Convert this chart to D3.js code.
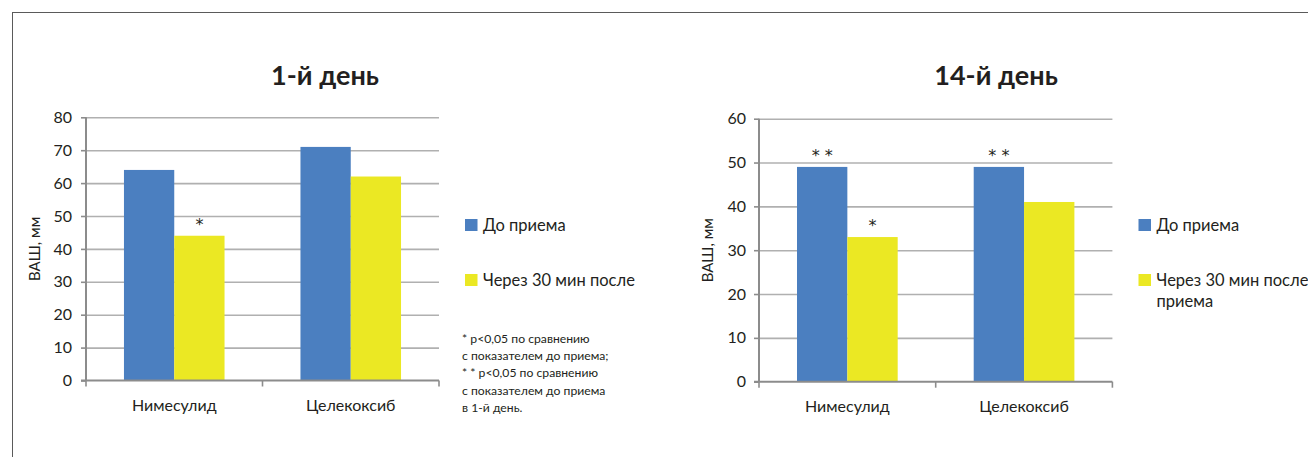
<!DOCTYPE html>
<html>
<head>
<meta charset="utf-8">
<script src="https://cdn.jsdelivr.net/npm/d3@7"></script>
<style>
  html, body { margin: 0; padding: 0; background: #fff; }
  svg { display: block; }
  text { font-family: "Lato", "Noto Sans", sans-serif; fill: #231f20; }
  text.mark { font-family: "DejaVu Sans", sans-serif; }
</style>
</head>
<body>
<svg id="chart" width="1308" height="457"></svg>
<script>
// Pain scores (VAS, mm) before and 30 min after the dose
const categories = ["Нимесулид", "Целекоксиб"];
const seriesNames = ["До приема", "Через 30 мин после"];
const seriesColors = ["#4b7fc0", "#ebe823"];

const day1Before = [64, 71];
const day1After = [44, 62];
const day1Ticks = [0, 10, 20, 30, 40, 50, 60, 70, 80];
const day1Marks = [["", "*"], ["", ""]];

const day14Before = [49, 49];
const day14After = [33, 41];
const day14Ticks = [0, 10, 20, 30, 40, 50, 60];
const day14Marks = [["* *", "*"], ["* *", ""]];

const yTitle = "ВАШ, мм";
const legendLeft = [["До приема"], ["Через 30 мин после"]];
const legendRight = [["До приема"], ["Через 30 мин после", "приема"]];
const footnotes = [
  "* p<0,05 по сравнению",
  "с показателем до приема;",
  "* * p<0,05 по сравнению",
  "с показателем до приема",
  "в 1-й день."
];

const svg = d3.select("#chart");

// frame
svg.append("line").attr("x1", 12).attr("x2", 1308).attr("y1", 12.5).attr("y2", 12.5)
  .attr("stroke", "#5a5a5a").attr("stroke-width", 1);
svg.append("line").attr("x1", 12.5).attr("x2", 12.5).attr("y1", 12).attr("y2", 457)
  .attr("stroke", "#5a5a5a").attr("stroke-width", 1);

function drawChart(cfg) {
  const g = svg.append("g");
  const x0 = d3.scaleBand().domain(categories).range([cfg.left, cfg.right]).padding(0);
  const x1 = d3.scaleBand().domain([0, 1]).range([0, x0.bandwidth()])
    .paddingInner(0).paddingOuter(0.755);
  const yMax = cfg.ticks[cfg.ticks.length - 1];
  const y = d3.scaleLinear().domain([0, yMax]).range([cfg.bottom, cfg.top]);

  // gridlines
  g.append("g")
    .attr("transform", `translate(${cfg.left},0)`)
    .call(d3.axisLeft(y).tickValues(cfg.ticks.filter(t => t > 0))
      .tickSize(-(cfg.right - cfg.left)).tickFormat(""))
    .call(s => s.select(".domain").remove())
    .call(s => s.selectAll("line").attr("stroke", "#b0b0b0").attr("stroke-width", 1.6));

  // bars
  const rows = categories.map((c, i) => ({ c, i, v: [cfg.before[i], cfg.after[i]] }));
  const grp = g.selectAll(".grp").data(rows).join("g")
    .attr("transform", d => `translate(${x0(d.c)},0)`);
  grp.selectAll("rect").data(d => d.v.map((v, k) => ({ v, k }))).join("rect")
    .attr("x", d => x1(d.k))
    .attr("width", x1.bandwidth())
    .attr("y", d => y(d.v))
    .attr("height", d => y(0) - y(d.v))
    .attr("fill", d => seriesColors[d.k]);

  // significance marks
  grp.selectAll(".mark").data(d => cfg.marks[d.i].map((m, k) => ({ m, k, v: d.v[k] })))
    .join("text")
    .attr("class", "mark")
    .attr("x", d => x1(d.k) + x1.bandwidth() / 2)
    .attr("y", d => y(d.v) - cfg.markGap)
    .attr("text-anchor", "middle")
    .attr("font-size", 16)
    .text(d => d.m);

  // y axis
  g.append("g")
    .attr("transform", `translate(${cfg.left},0)`)
    .call(d3.axisLeft(y).tickValues(cfg.ticks).tickSize(5).tickPadding(cfg.tickPad).tickFormat(d3.format("d")))
    .call(s => s.select(".domain").attr("stroke", "#8c8c8c").attr("stroke-width", 2)
      .attr("d", `M0,${cfg.top}V${cfg.bottom}`))
    .call(s => s.selectAll(".tick line").attr("stroke", "#8c8c8c").attr("stroke-width", 1.6))
    .call(s => s.selectAll(".tick text").attr("font-size", 16).attr("fill", "#231f20"));

  // x axis
  g.append("line").attr("x1", cfg.left - 5).attr("x2", cfg.right)
    .attr("y1", y(0)).attr("y2", y(0)).attr("stroke", "#8c8c8c").attr("stroke-width", 2);
  const edges = [x0(categories[0])].concat(categories.map(c => x0(c) + x0.bandwidth()));
  g.selectAll(".xt").data(edges).join("line")
    .attr("x1", d => d).attr("x2", d => d)
    .attr("y1", y(0)).attr("y2", y(0) + 6)
    .attr("stroke", "#8c8c8c").attr("stroke-width", 1.6);
  g.selectAll(".xl").data(categories).join("text")
    .attr("x", c => x0(c) + x0.bandwidth() / 2)
    .attr("y", cfg.bottom + 30)
    .attr("text-anchor", "middle")
    .attr("font-size", 16)
    .text(c => c);

  // y title
  g.append("text")
    .attr("transform", `translate(${cfg.yTitleX},${(cfg.top + cfg.bottom) / 2}) rotate(-90)`)
    .attr("text-anchor", "middle")
    .attr("dy", "0.35em")
    .attr("font-size", 15)
    .text(yTitle);

  // title
  g.append("text")
    .attr("x", cfg.titleX).attr("y", 84.5)
    .attr("text-anchor", "middle")
    .attr("font-size", 27)
    .attr("font-weight", 700)
    .text(cfg.title);

  // legend
  const lg = g.append("g").attr("transform", `translate(${cfg.legendX},0)`);
  cfg.legend.forEach((lines, k) => {
    const yy = cfg.legendY[k];
    lg.append("rect").attr("x", 0).attr("y", yy - 11.5).attr("width", 12.5).attr("height", 12)
      .attr("fill", seriesColors[k]);
    const t = lg.append("text").attr("x", 18).attr("y", yy).attr("font-size", 16.5);
    lines.forEach((ln, j) => t.append("tspan").attr("x", 18).attr("dy", j ? 21.5 : 0).text(ln));
  });
}

drawChart({
  left: 86, right: 439, top: 117.3, bottom: 380.5,
  ticks: day1Ticks, before: day1Before, after: day1After, marks: day1Marks,
  markGap: 6, tickPad: 9, yTitleX: 35,
  title: "1-й день", titleX: 325,
  legend: legendLeft, legendX: 465, legendY: [230.5, 285.5]
});

drawChart({
  left: 759, right: 1112.4, top: 118.7, bottom: 381.7,
  ticks: day14Ticks, before: day14Before, after: day14After, marks: day14Marks,
  markGap: 6, tickPad: 8, yTitleX: 708,
  title: "14-й день", titleX: 996,
  legend: legendRight, legendX: 1138.5, legendY: [230.5, 285.5]
});

// footnotes under the left legend
const fn = svg.append("text").attr("x", 462).attr("y", 342.7).attr("font-size", 12.2);
footnotes.forEach((ln, j) => fn.append("tspan").attr("x", 462).attr("dy", j ? 17.3 : 0).text(ln));
</script>
</body>
</html>
